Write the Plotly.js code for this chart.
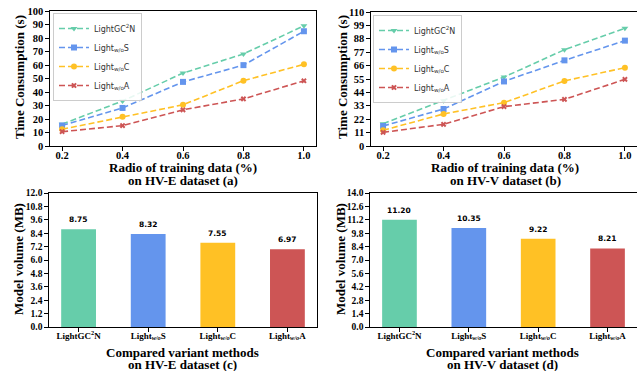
<!DOCTYPE html>
<html><head><meta charset="utf-8">
<script src="https://cdn.plot.ly/plotly-3.0.1.min.js"></script>
<style>html,body{margin:0;padding:0;background:#fff}#c{width:637px;height:371px}</style>
</head><body><div id="c"></div>
<script>
// ---------- data ----------
const ratios = [0.2, 0.4, 0.6, 0.8, 1.0];
const seriesNames = ['LightGC<sup>2</sup>N', 'Light<sub>w/o</sub>S', 'Light<sub>w/o</sub>C', 'Light<sub>w/o</sub>A'];
const timeHVE_GC2N = [16.1, 33.4, 54.0, 68.2, 89.0];
const timeHVE_woS  = [15.2, 28.2, 47.5, 59.9, 85.0];
const timeHVE_woC  = [12.4, 21.6, 30.5, 48.4, 60.5];
const timeHVE_woA  = [10.6, 15.1, 26.8, 34.9, 48.3];
const timeHVV_GC2N = [18.3, 37.2, 56.6, 79.0, 96.6];
const timeHVV_woS  = [16.4, 30.4, 53.0, 70.3, 86.5];
const timeHVV_woC  = [12.9, 26.3, 35.6, 53.4, 64.3];
const timeHVV_woA  = [11.2, 17.8, 32.3, 38.3, 54.7];
const variants = ['LightGC<sup>2</sup>N', 'Light<sub><i>w/o</i></sub>S', 'Light<sub><i>w/o</i></sub>C', 'Light<sub><i>w/o</i></sub>A'];
const volumeHVE = [8.75, 8.32, 7.55, 6.97];
const volumeHVV = [11.20, 10.35, 9.22, 8.21];
const xTitles = [['Radio of training data (%)', 'on HV-E dataset (a)'],
                 ['Radio of training data (%)', 'on HV-V dataset (b)'],
                 ['Compared variant methods', 'on HV-E dataset (c)'],
                 ['Compared variant methods', 'on HV-V dataset (d)']];
const yTitles = ['Time Consumption (s)', 'Time Consumption (s)', 'Model volume (MB)', 'Model volume (MB)'];

// ---------- styles ----------
const colors = ['#66CDAA', '#6495ED', '#FFC125', '#CD5555'];
const symbols = ['triangle-down', 'square', 'circle', 'x'];
const serif = 'Liberation Serif, Times New Roman, serif';
const sans = 'DejaVu Sans, sans-serif';

const W = 637, H = 371;
const px = v => v / W, py = v => 1 - v / H;

const lineTraces = (vals, xa, ya, leg) => vals.map((v, i) => ({
  type: 'scatter', mode: 'lines+markers', x: ratios, y: v, xaxis: xa, yaxis: ya,
  name: seriesNames[i], legend: leg,
  line: {color: colors[i], width: 1.6, dash: '6px,3px'},
  marker: {color: colors[i], symbol: symbols[i], size: symbols[i] === 'x' ? 5 : 6,
           line: {width: 0}}
}));

const traces = [
  ...lineTraces([timeHVE_GC2N, timeHVE_woS, timeHVE_woC, timeHVE_woA], 'x', 'y', 'legend'),
  ...lineTraces([timeHVV_GC2N, timeHVV_woS, timeHVV_woC, timeHVV_woA], 'x2', 'y2', 'legend2'),
  {type: 'bar', x: [0,1,2,3], y: volumeHVE, xaxis: 'x3', yaxis: 'y3', width: 0.5,
   marker: {color: colors}, showlegend: false},
  {type: 'bar', x: [0,1,2,3], y: volumeHVV, xaxis: 'x4', yaxis: 'y4', width: 0.5,
   marker: {color: colors}, showlegend: false}
];

const tickFont = {family: serif, size: 10.5, color: '#000', weight: 'bold'};
const titleFont = {family: serif, size: 13, color: '#000', weight: 'bold'};
const base = {showline: true, mirror: true, linecolor: '#000', linewidth: 1.2,
  ticks: 'outside', ticklen: 3.5, tickwidth: 1, tickcolor: '#000', showgrid: false,
  zeroline: false, tickfont: tickFont, fixedrange: true};

const xLine = (dom) => Object.assign({}, base, {domain: dom, range: [0.16, 1.04],
  tickvals: ratios, tickformat: '.1f', ticklabelstandoff: -4});
const yAx = (dom, anchor, rng, dt, fmt, sz) => Object.assign({}, base, {domain: dom, anchor: anchor,
  range: rng, dtick: dt, tick0: 0, tickformat: fmt, tickfont: Object.assign({}, tickFont, {size: sz})});
const xBar = (dom) => Object.assign({}, base, {domain: dom, range: [-0.425, 3.425],
  tickvals: [0,1,2,3], ticktext: variants, ticklabelstandoff: -4,
  tickfont: Object.assign({}, tickFont, {size: 9})});

const annots = [];
const valFont = {family: sans, size: 7.5, color: '#000', weight: 'bold'};
volumeHVE.forEach((v, i) => annots.push({xref: 'x3', yref: 'y3', x: i, y: v, text: v.toFixed(2),
  showarrow: false, yanchor: 'bottom', yshift: 3, font: valFont}));
volumeHVV.forEach((v, i) => annots.push({xref: 'x4', yref: 'y4', x: i, y: v, text: v.toFixed(2),
  showarrow: false, yanchor: 'bottom', yshift: 3, font: valFont}));

// axis titles placed as paper annotations
const xTitlePos = [[183, 167, 181], [505, 167, 181], [182, 352, 364], [503, 352, 364]];
xTitlePos.forEach((p, k) => {
  annots.push({xref: 'paper', yref: 'paper', x: px(p[0]), y: py(p[1]), text: xTitles[k][0],
    showarrow: false, xanchor: 'center', yanchor: 'middle', font: titleFont});
  annots.push({xref: 'paper', yref: 'paper', x: px(p[0]), y: py(p[2]), text: xTitles[k][1],
    showarrow: false, xanchor: 'center', yanchor: 'middle', font: titleFont});
});
const yTitlePos = [[20, 77], [343, 77], [18, 259], [340, 259]];
yTitlePos.forEach((p, k) => annots.push({xref: 'paper', yref: 'paper', x: px(p[0]), y: py(p[1]),
  text: yTitles[k], textangle: -90, showarrow: false, xanchor: 'center', yanchor: 'middle', font: titleFont}));

const legendStyle = (x, y) => ({x: x, y: y, xanchor: 'left', yanchor: 'top', xref: 'paper', yref: 'paper',
  bgcolor: 'rgba(255,255,255,0.85)', bordercolor: '#cccccc', borderwidth: 1,
  font: {family: sans, size: 8, color: '#333'}, itemwidth: 30, tracegroupgap: 0});

const layout = {
  width: W, height: H, margin: {l: 0, r: 0, t: 0, b: 0},
  paper_bgcolor: '#fff', plot_bgcolor: '#fff', showlegend: true,
  xaxis: xLine([px(50), px(316)]),
  yaxis: yAx([py(146), py(11)], 'x', [0, 100], 10, 'd', 10.5),
  xaxis2: Object.assign(xLine([px(371), 1]), {anchor: 'y2'}),
  yaxis2: yAx([py(146), py(12)], 'x2', [0, 110], 11, 'd', 10.5),
  xaxis3: Object.assign(xBar([px(49), px(317)]), {anchor: 'y3'}),
  yaxis3: yAx([py(327), py(193)], 'x3', [0, 12], 1.2, '.1f', 9.5),
  xaxis4: Object.assign(xBar([px(370), 1]), {anchor: 'y4'}),
  yaxis4: yAx([py(327), py(193)], 'x4', [0, 14], 1.4, '.1f', 9.5),
  legend: legendStyle(px(53), py(13)),
  legend2: legendStyle(px(373), py(15)),
  annotations: annots
};

Plotly.newPlot('c', traces, layout, {displayModeBar: false, staticPlot: true});
</script></body></html>
